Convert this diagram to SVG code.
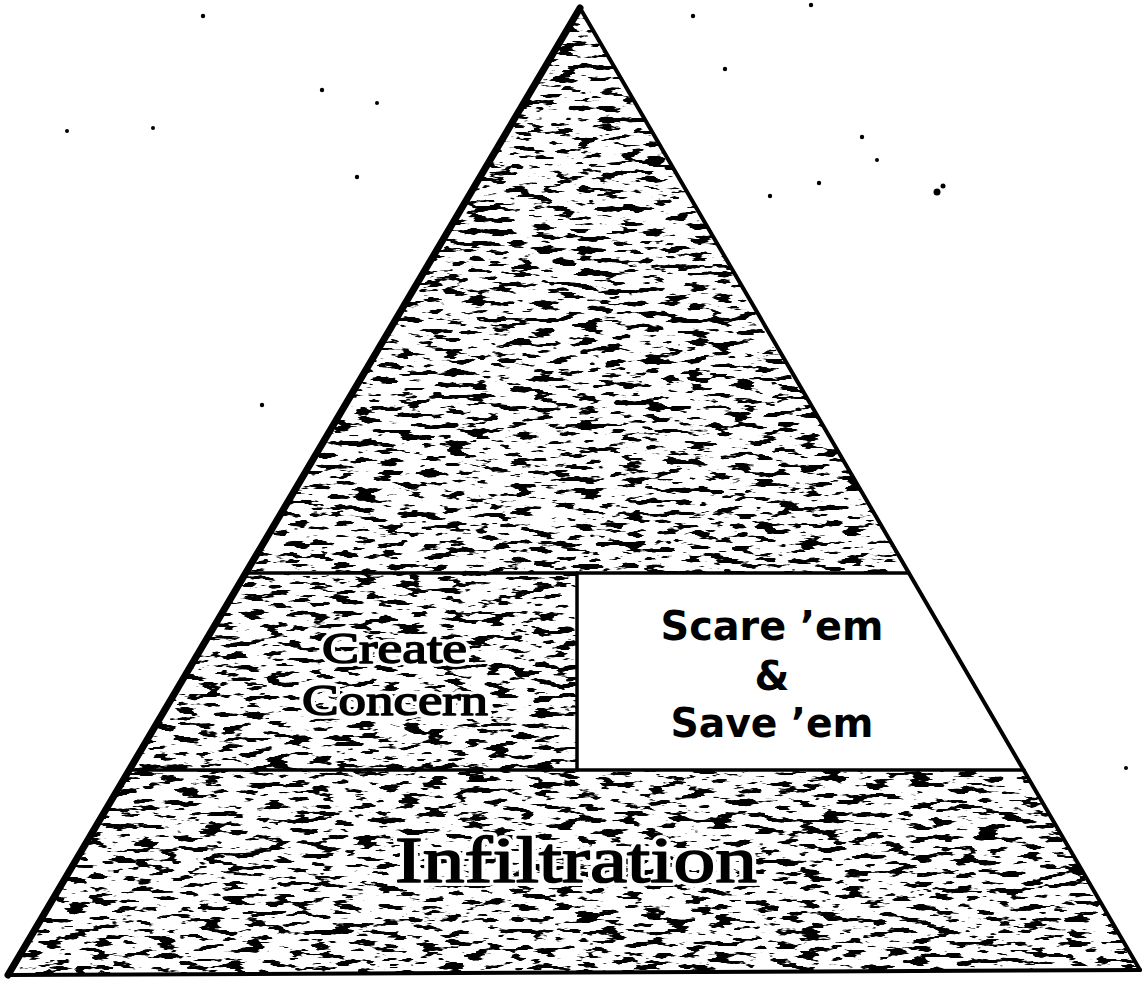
<svg xmlns="http://www.w3.org/2000/svg" width="1143" height="981" viewBox="0 0 1143 981">
<style>
.edge{fill:none;stroke:#000;stroke-linejoin:round;stroke-linecap:round}
.halo{font-family:"Liberation Serif","Times New Roman",serif;fill:#fff;stroke:#fff;stroke-width:8;stroke-linejoin:round}
.serif{font-family:"Liberation Serif","Times New Roman",serif;fill:#000;stroke:#000;stroke-width:1.6;stroke-linejoin:round}
.sans{font-family:"DejaVu Sans","Liberation Sans",sans-serif;font-weight:bold;fill:#000;text-anchor:middle}
.dot{fill:#000}
</style>
<defs>
<filter id="tex" x="0" y="0" width="1" height="1" filterUnits="objectBoundingBox" color-interpolation-filters="sRGB">
<feTurbulence type="fractalNoise" baseFrequency="0.045 0.17" numOctaves="3" seed="7" result="n"/>
<feColorMatrix in="n" type="matrix" values="0 0 0 0 0  0 0 0 0 0  0 0 0 0 0  22 0 0 0 -12.2" result="a"/>
<feFlood flood-color="#000" result="k"/>
<feComposite in="k" in2="a" operator="in" result="ka"/>
<feComposite in="ka" in2="SourceAlpha" operator="in"/>
</filter>
</defs>
<rect width="1143" height="981" fill="#fff"/>
<g id="dots">
<circle class="dot" cx="203" cy="16" r="2.2"/>
<circle class="dot" cx="322" cy="90" r="2.2"/>
<circle class="dot" cx="377" cy="103" r="2"/>
<circle class="dot" cx="67" cy="131" r="2"/>
<circle class="dot" cx="153" cy="128" r="2"/>
<circle class="dot" cx="357" cy="177" r="2.2"/>
<circle class="dot" cx="262" cy="405" r="2.2"/>
<circle class="dot" cx="693" cy="16" r="2.2"/>
<circle class="dot" cx="811" cy="5" r="2.2"/>
<circle class="dot" cx="725" cy="69" r="2.2"/>
<circle class="dot" cx="862" cy="137" r="2.2"/>
<circle class="dot" cx="877" cy="160" r="2"/>
<circle class="dot" cx="819" cy="183" r="2.2"/>
<circle class="dot" cx="770" cy="196" r="2.2"/>
<circle class="dot" cx="937" cy="192" r="3.5"/>
<circle class="dot" cx="943" cy="186" r="2.5"/>
<circle class="dot" cx="1126" cy="768" r="2"/>
</g>
<g id="apex-region">
<polygon points="580,8 909,573 245,573" fill="#fff"/>
<polygon points="580,8 909,573 245,573" filter="url(#tex)"/>
</g>
<g id="create-concern">
<polygon points="245,573 577,573 577,770 128,770" fill="#fff"/>
<polygon points="245,573 577,573 577,770 128,770" filter="url(#tex)"/>
<text class="halo" x="322" y="663" font-size="44" textLength="145" lengthAdjust="spacingAndGlyphs">Create</text>
<text class="halo" x="302" y="715" font-size="44" textLength="186" lengthAdjust="spacingAndGlyphs">Concern</text>
<text class="serif" x="322" y="663" font-size="44" textLength="145" lengthAdjust="spacingAndGlyphs">Create</text>
<text class="serif" x="302" y="715" font-size="44" textLength="186" lengthAdjust="spacingAndGlyphs">Concern</text>
</g>
<g id="scare-save">
<polygon points="577,573 909,573 1024,770 577,770" fill="#fff"/>
<text class="sans" x="772" y="640" font-size="40" textLength="223" lengthAdjust="spacingAndGlyphs">Scare ’em</text>
<text class="sans" x="772" y="690" font-size="40">&amp;</text>
<text class="sans" x="772" y="737" font-size="40" textLength="203" lengthAdjust="spacingAndGlyphs">Save ’em</text>
</g>
<g id="infiltration">
<polygon points="128,770 1024,770 1140,970 8,975" fill="#fff"/>
<polygon points="128,770 1024,770 1140,970 8,975" filter="url(#tex)"/>
<text class="halo" x="395" y="882" font-size="66" textLength="362" lengthAdjust="spacingAndGlyphs">Infiltration</text>
<text class="serif" x="395" y="882" font-size="66" textLength="362" lengthAdjust="spacingAndGlyphs">Infiltration</text>
</g>
<g id="connectors">
<line class="edge" x1="580" y1="8" x2="8" y2="975" stroke-width="7"/>
<line class="edge" x1="580" y1="8" x2="1140" y2="970" stroke-width="4"/>
<line class="edge" x1="8" y1="975" x2="1140" y2="970" stroke-width="4"/>
<line class="edge" x1="245" y1="573" x2="909" y2="573" stroke-width="3.5"/>
<line class="edge" x1="128" y1="770" x2="1024" y2="770" stroke-width="3.5"/>
<line class="edge" x1="577" y1="573" x2="577" y2="770" stroke-width="3.5"/>
</g>
</svg>
